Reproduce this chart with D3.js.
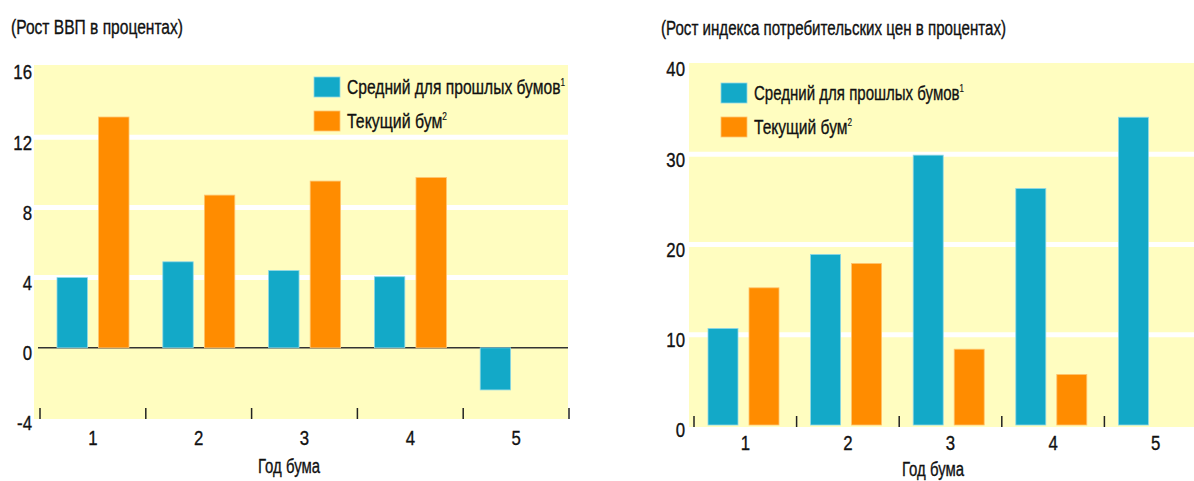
<!DOCTYPE html>
<html>
<head>
  <meta charset="utf-8">
  <title></title>
  <style>
    body { margin: 0; background: #fff; }
    text { font-family: "Liberation Sans", Arial, sans-serif; fill: #111; stroke: #111; stroke-width: 0.35px; }
  </style>
</head>
<body>
  <svg width="1194" height="481"></svg>

  <script src="https://d3js.org/d3.v7.min.js"></script>
  <script>

  var categories = ["1", "2", "3", "4", "5"];

  // left chart: GDP growth, %
  var gdpPast = [4.0, 4.9, 4.4, 4.05, -2.4];
  var gdpCurrent = [13.15, 8.7, 9.5, 9.7, null];
  var gdpTicks = [-4, 0, 4, 8, 12, 16];

  // right chart: CPI growth, %
  var cpiPast = [10.7, 18.9, 29.9, 26.2, 34.1];
  var cpiCurrent = [15.2, 17.9, 8.4, 5.6, null];
  var cpiTicks = [0, 10, 20, 30, 40];

  var seriesNames = ["Средний для прошлых бумов", "Текущий бум"];
  var seriesSup = ["1", "2"];
  var titles = ["(Рост ВВП в процентах)", "(Рост индекса потребительских цен в процентах)"];
  var xTitle = "Год бума";

  var teal = "#13a9c8", orange = "#ff8c00", yellow = "#fffdc0";
  var squeeze = 0.8;   // source type is a condensed grotesque

  var svg = d3.select("svg");

  drawPanel({
    past: gdpPast, current: gdpCurrent, ticks: gdpTicks,
    title: titles[0], titleX: 11, titleY: 27, titleW: 172,
    bg: [34, 65, 568, 419],
    x0: 40, x1: 569, y0: 67, y1: 418,
    inner: [17, 89],
    tickLabelX: 32, catY: 438, xTitleX: 289, xTitleY: 466, xTitleW: 62,
    tickTop: 408, zeroFrom: 38,
    legendX: 314, legendY: 77, legendW: [218, 100]
  });

  drawPanel({
    past: cpiPast, current: cpiCurrent, ticks: cpiTicks,
    title: titles[1], titleX: 661, titleY: 28, titleW: 345,
    bg: [689, 63, 1194, 427],
    x0: 694, x1: 1207, y0: 64, y1: 425,
    inner: [14, 85],
    tickLabelX: 685, catY: 443, xTitleX: 933, xTitleY: 469, xTitleW: 62,
    tickTop: 416, zeroFrom: null,
    legendX: 721, legendY: 83, legendW: [210, 98]
  });

  function narrowText(sel, x, y, size, anchor, str) {
    return sel.append("text")
        .attr("transform", "translate(" + x + "," + y + ") scale(" + squeeze + ",1)")
        .attr("dy", "0.35em")
        .attr("text-anchor", anchor)
        .style("font-size", size + "px")
        .text(str);
  }

  function drawPanel(p) {
    var g = svg.append("g");
    var lo = d3.min(p.ticks), hi = d3.max(p.ticks);

    var x = d3.scaleBand().domain(categories).range([p.x0, p.x1]).padding(0);
    var xs = d3.scaleBand().domain(["past", "current"]).range(p.inner)
        .paddingInner(11 / 41).paddingOuter(0);
    var y = d3.scaleLinear().domain([lo, hi]).range([p.y1, p.y0]);

    // title
    g.append("text")
        .attr("x", p.titleX).attr("y", p.titleY)
        .attr("dy", "0.35em")
        .attr("textLength", p.titleW).attr("lengthAdjust", "spacingAndGlyphs")
        .style("font-size", "20px")
        .text(p.title);

    // background
    g.append("rect")
        .attr("x", p.bg[0]).attr("y", p.bg[1])
        .attr("width", p.bg[2] - p.bg[0]).attr("height", p.bg[3] - p.bg[1])
        .attr("fill", yellow);

    // white gridlines
    g.selectAll(".grid")
      .data(p.ticks.filter(function(t) { return t > lo && t < hi && t !== 0; }))
      .enter().append("line")
        .attr("x1", p.bg[0]).attr("x2", p.bg[2])
        .attr("y1", function(d) { return y(d); })
        .attr("y2", function(d) { return y(d); })
        .attr("stroke", "#fff").attr("stroke-width", 5);

    // zero line (only when the axis crosses below zero)
    if (p.zeroFrom !== null) {
      g.append("line")
          .attr("x1", p.zeroFrom).attr("x2", p.bg[2])
          .attr("y1", y(0)).attr("y2", y(0))
          .attr("stroke", "#333").attr("stroke-width", 1.6);
    }

    // y tick labels
    p.ticks.forEach(function(t) {
      narrowText(g, p.tickLabelX, y(t) + 5, 21, "end", t);
    });

    // bars
    var rows = [];
    categories.forEach(function(c, i) {
      rows.push({ cat: c, key: "past", v: p.past[i], color: teal, edge: "#8fd8e6" });
      if (p.current[i] !== null) rows.push({ cat: c, key: "current", v: p.current[i], color: orange, edge: "#ffc46e" });
    });

    g.selectAll(".bar")
      .data(rows)
      .enter().append("rect")
        .attr("x", function(d) { return x(d.cat) + xs(d.key); })
        .attr("width", xs.bandwidth())
        .attr("y", function(d) { return y(Math.max(0, d.v)); })
        .attr("height", function(d) { return Math.abs(y(d.v) - y(0)); })
        .attr("fill", function(d) { return d.color; })
        .attr("stroke", function(d) { return d.edge; })
        .attr("stroke-width", 0.8);

    // category separators at the bottom
    var edges = categories.map(function(c) { return x(c); }).concat([x.range()[1]]);
    g.selectAll(".sep")
      .data(edges)
      .enter().append("line")
        .attr("x1", function(d) { return d; }).attr("x2", function(d) { return d; })
        .attr("y1", p.tickTop).attr("y2", p.tickTop + 11)
        .attr("stroke", "#222").attr("stroke-width", 1.5);

    // category labels
    categories.forEach(function(c) {
      narrowText(g, x(c) + x.bandwidth() / 2, p.catY, 21, "middle", c);
    });

    g.append("text")
        .attr("x", p.xTitleX - p.xTitleW / 2).attr("y", p.xTitleY)
        .attr("dy", "0.35em")
        .attr("textLength", p.xTitleW).attr("lengthAdjust", "spacingAndGlyphs")
        .style("font-size", "20px")
        .text(xTitle);

    // legend
    var lg = g.append("g").attr("transform", "translate(" + p.legendX + "," + p.legendY + ")");
    [teal, orange].forEach(function(col, i) {
      lg.append("rect")
          .attr("x", 0).attr("y", i * 34)
          .attr("width", 26).attr("height", 20)
          .attr("fill", col)
          .attr("stroke", i === 0 ? "#8fd8e6" : "#ffc46e").attr("stroke-width", 0.8);
      var t = lg.append("text")
          .attr("x", 33).attr("y", i * 34 + 17)
          .attr("textLength", p.legendW[i]).attr("lengthAdjust", "spacingAndGlyphs")
          .style("font-size", "21px");
      t.append("tspan").text(seriesNames[i]);
      t.append("tspan")
          .attr("dy", -8)
          .style("font-size", "11px")
          .style("stroke-width", "0.2px")
          .text(seriesSup[i]);
    });
  }

  </script>
</body>
</html>
